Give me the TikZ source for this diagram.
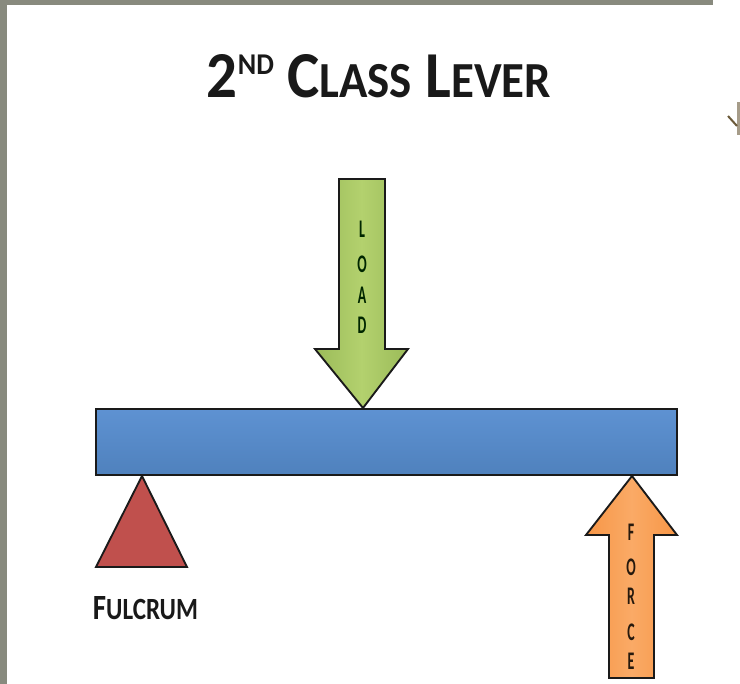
\documentclass[tikz,border=0pt]{standalone}
\usepackage{fontspec}
\setmainfont{Carlito}
\usetikzlibrary{shapes.geometric}
\definecolor{bordergray}{HTML}{888A7E}
\definecolor{beamblue}{HTML}{4F81BD}
\definecolor{beamlight}{HTML}{5E92D2}
\definecolor{loadgreen}{HTML}{9BBB59}
\definecolor{loadlight}{HTML}{B3D16E}
\definecolor{fulcred}{HTML}{C0504D}
\definecolor{forceorange}{HTML}{F79646}
\definecolor{forcelight}{HTML}{FAAA66}
\definecolor{outline}{HTML}{1A1A1A}
\definecolor{fragment}{HTML}{6B5A3A}
\tikzset{
  shapeline/.style={draw=outline, line width=1.4pt, line join=miter},
  arrowletter/.style={inner sep=0pt, font=\bfseries\fontsize{19}{19}\selectfont},
  labeltext/.style={inner sep=0pt, font=\bfseries, text=black!90}
}
\newcommand{\sq}[1]{\scalebox{0.55}[1]{#1}}
\begin{document}
\begin{tikzpicture}[x=0.75pt,y=-0.75pt]
\useasboundingbox (0,0) rectangle (740,684);
\fill[white] (0,0) rectangle (740,684);
% gray frame remnants
\fill[bordergray] (0,0) rectangle (7,684);
\fill[bordergray] (0,0) rectangle (713,5);
% clipped fragment at right edge
\fill[fragment!60] (737,102) rectangle (740,135);
\draw[fragment, line width=1.5pt] (728,116) -- (737,126);
% title
\node[labeltext] (title) at (379,76.5) {\resizebox{258pt}{32.25pt}{\fontsize{10}{10}\selectfont 2\raisebox{3.5pt}{\fontsize{4.6}{4.6}\selectfont ND}\hspace{2.2pt}C{\fontsize{7.7}{7.7}\selectfont LASS}\hspace{2.2pt}L{\fontsize{7.7}{7.7}\selectfont EVER}}};
% beam
\draw[shapeline, top color=beamlight, bottom color=beamblue] (96,409) rectangle (677,475);
% load arrow
\draw[shapeline, left color=loadgreen, right color=loadgreen, middle color=loadlight]
  (339,179) -- (385,179) -- (385,349) -- (408,349) -- (363,408) -- (315,349) -- (339,349) -- cycle;
\node[arrowletter, text=black!85!green] (l1) at (362,229) {\sq{L}};
\node[arrowletter, text=black!85!green] (l2) at (362,264) {\sq{O}};
\node[arrowletter, text=black!85!green] (l3) at (362,295) {\sq{A}};
\node[arrowletter, text=black!85!green] (l4) at (362,325) {\sq{D}};
% fulcrum
\draw[shapeline, fill=fulcred] (142,476) -- (187,567) -- (96,567) -- cycle;
\node[labeltext] (fulcrum) at (145.5,608.5) {\resizebox{78.75pt}{17.25pt}{\fontsize{10}{10}\selectfont F{\fontsize{8.7}{8.7}\selectfont ULCRUM}}};
% force arrow
\draw[shapeline, left color=forceorange, right color=forceorange, middle color=forcelight]
  (632,476) -- (677,535) -- (654,535) -- (654,678) -- (609,678) -- (609,535) -- (586,535) -- cycle;
\node[arrowletter, text=black!80!brown] (f1) at (631,532) {\sq{F}};
\node[arrowletter, text=black!80!brown] (f2) at (631,567) {\sq{O}};
\node[arrowletter, text=black!80!brown] (f3) at (631,596) {\sq{R}};
\node[arrowletter, text=black!80!brown] (f4) at (631,632) {\sq{C}};
\node[arrowletter, text=black!80!brown] (f5) at (631,661) {\sq{E}};
\end{tikzpicture}
\end{document}
